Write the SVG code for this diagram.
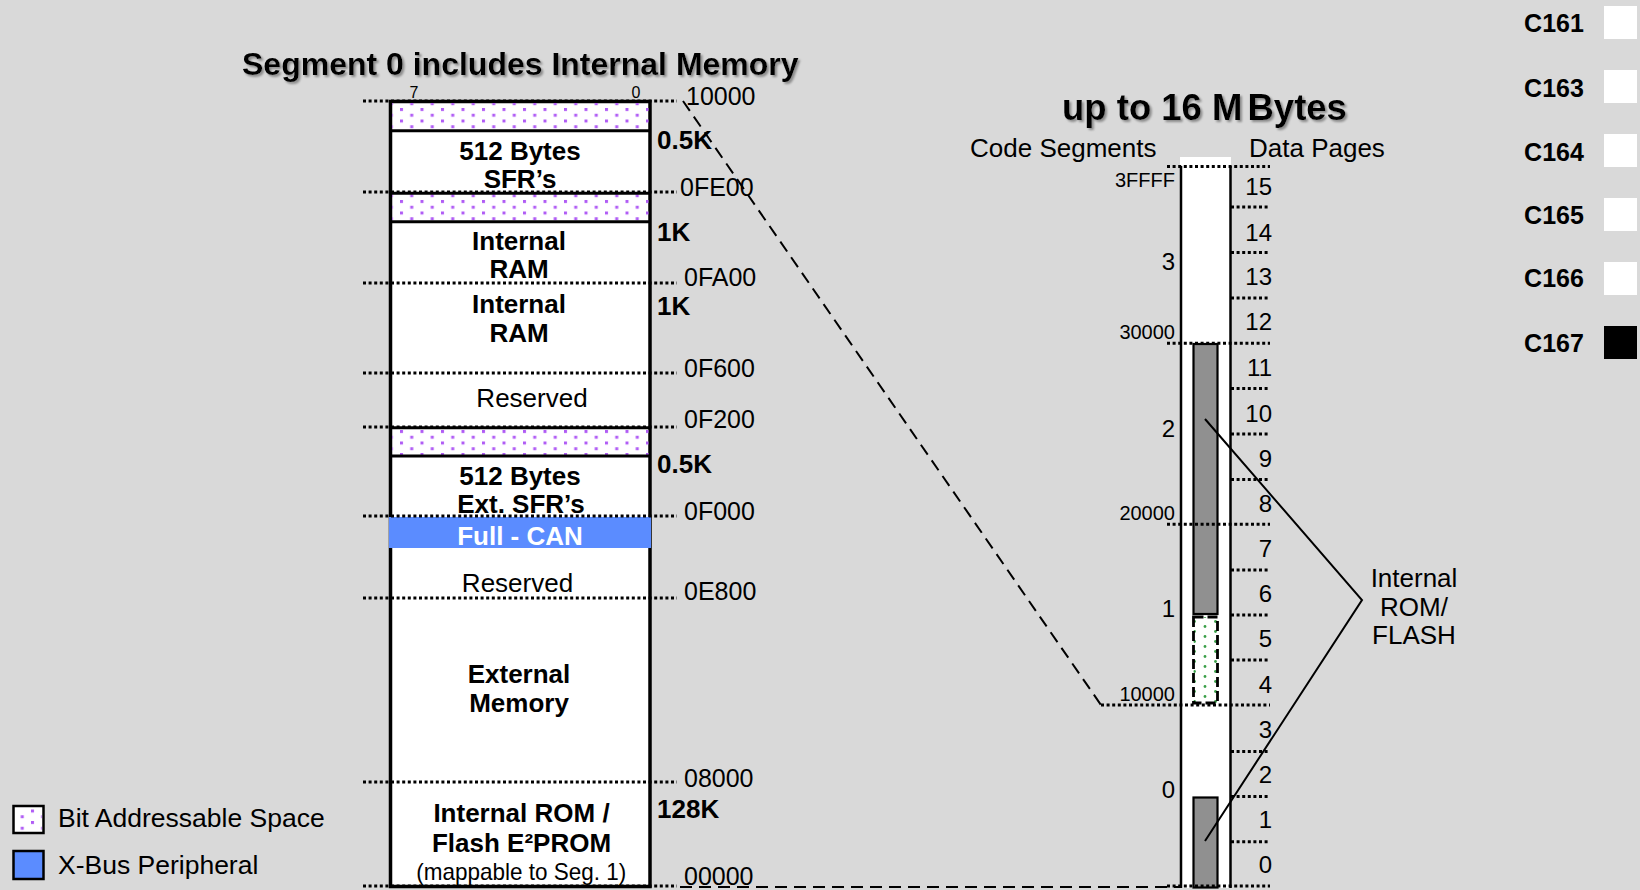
<svg xmlns="http://www.w3.org/2000/svg" width="1640" height="890" viewBox="0 0 1640 890">
<defs>
<style>
text{font-family:"Liberation Sans",Arial,sans-serif;fill:#000}
.b{font-weight:bold}
.t26{font-size:26px}
.t24{font-size:24px}
.t20{font-size:20px}
.k{font-size:26px;font-weight:bold}
.c{text-anchor:middle}
.r{text-anchor:end}
.dot{fill:none;stroke:#000;stroke-width:3;stroke-dasharray:3 2.6}
.dash{fill:none;stroke:#000;stroke-width:2;stroke-dasharray:12 7}
.box{stroke:#000;stroke-width:3.5}
.sep{stroke:#000;stroke-width:3}
</style>
<pattern id="bits" width="20.5" height="11.5" patternUnits="userSpaceOnUse" x="400" y="108">
<rect x="0" y="0" width="3" height="3" fill="#b05cf5"/>
<rect x="10.25" y="5.75" width="3" height="3" fill="#b05cf5"/>
</pattern>
<pattern id="green" width="21" height="10" patternUnits="userSpaceOnUse" x="1193" y="620">
<circle cx="1.5" cy="1.5" r="1.4" fill="#3ca04a"/>
<circle cx="12" cy="6.5" r="1.4" fill="#3ca04a"/>
</pattern>
<filter id="sh" x="-5%" y="-20%" width="110%" height="150%">
<feDropShadow dx="2" dy="2" stdDeviation="0.8" flood-color="#8a8a8a" flood-opacity="1"/>
</filter>
</defs>
<rect width="1640" height="890" fill="#d9d9d9"/>

<!-- titles -->
<text x="242" y="75" class="b" font-size="32" filter="url(#sh)">Segment 0 includes Internal Memory</text>
<text x="1062" y="120" class="b" font-size="36.5" filter="url(#sh)">up to 16 M<tspan dx="5">Bytes</tspan></text>

<!-- left memory map -->
<g id="segment0">
<rect x="390.5" y="101.5" width="259.5" height="785" fill="#fff" class="box"/>
<rect x="392" y="103" width="256.5" height="27" fill="url(#bits)"/>
<rect x="392" y="194" width="256.5" height="27" fill="url(#bits)"/>
<rect x="392" y="429" width="256.5" height="26" fill="url(#bits)"/>
<line x1="390.5" y1="130.7" x2="650" y2="130.7" class="sep"/>
<line x1="390.5" y1="193.2" x2="650" y2="193.2" class="sep"/>
<line x1="390.5" y1="221.7" x2="650" y2="221.7" class="sep"/>
<line x1="390.5" y1="427.8" x2="650" y2="427.8" class="sep"/>
<line x1="390.5" y1="456" x2="650" y2="456" class="sep"/>
<text x="414" y="98" font-size="16" class="c">7</text>
<text x="636" y="98" font-size="16" class="c">0</text>
</g>

<g id="sfr">
<text x="520" y="160" class="b t26 c">512 Bytes</text>
<text x="520" y="188" class="b t26 c">SFR’s</text>
<text x="657" y="149" class="k">0.5K</text>
</g>
<g id="ram1">
<text x="519" y="250" class="b t26 c">Internal</text>
<text x="519" y="278" class="b t26 c">RAM</text>
<text x="657" y="241" class="k">1K</text>
</g>
<g id="ram2">
<text x="519" y="313" class="b t26 c">Internal</text>
<text x="519" y="342" class="b t26 c">RAM</text>
<text x="657" y="315" class="k">1K</text>
</g>
<g id="reserved1">
<text x="532" y="407" class="t26 c">Reserved</text>
</g>
<g id="extsfr">
<text x="520" y="485" class="b t26 c">512 Bytes</text>
<text x="521" y="513" class="b t26 c">Ext. SFR’s</text>
<text x="657" y="473" class="k">0.5K</text>
</g>
<g id="can">
<rect x="389" y="517" width="262" height="31" fill="#5b8cff"/>
<text x="520" y="545" class="b t26 c" style="fill:#fff">Full - CAN</text>
</g>
<g id="reserved2">
<text x="517.5" y="592" class="t26 c">Reserved</text>
</g>
<g id="external">
<text x="519" y="683" class="b t26 c">External</text>
<text x="519" y="712" class="b t26 c">Memory</text>
</g>
<g id="rom">
<text x="521.5" y="822" class="b t26 c">Internal ROM /</text>
<text x="521.5" y="852" class="b t26 c">Flash E²PROM</text>
<text x="521.3" y="880" class="t24 c" textLength="210" lengthAdjust="spacingAndGlyphs">(mappable to Seg. 1)</text>
<text x="657" y="818" class="k">128K</text>
</g>

<g id="addresses" font-size="25">
<text x="686" y="105">10000</text>
<text x="680" y="196">0FE00</text>
<text x="684" y="286">0FA00</text>
<text x="684" y="377">0F600</text>
<text x="684" y="428">0F200</text>
<text x="684" y="520">0F000</text>
<text x="684" y="600">0E800</text>
<text x="684" y="787">08000</text>
<text x="684" y="885">00000</text>
</g>

<!-- legend -->
<g id="legend" font-size="26.5">
<rect x="13.5" y="806" width="30" height="27" fill="#fff" stroke="#000" stroke-width="2.5"/>
<rect x="15" y="807.5" width="27" height="24" fill="url(#bits)"/>
<text x="58" y="827">Bit Addressable Space</text>
<rect x="13.5" y="851" width="30" height="28" fill="#5b8cff" stroke="#000" stroke-width="2.5"/>
<text x="58" y="874">X-Bus Peripheral</text>
</g>

<!-- right column -->
<g id="column">
<rect x="1180" y="157" width="51" height="731" fill="#fff"/>
<line x1="1181" y1="166" x2="1181" y2="888" stroke="#000" stroke-width="2.5"/>
<line x1="1230.5" y1="166" x2="1230.5" y2="888" stroke="#000" stroke-width="2.5"/>
<text x="970" y="157" class="t26">Code Segments</text>
<text x="1249" y="157" class="t26">Data Pages</text>
</g>
<g id="rom-blocks">
<rect x="1193.5" y="344" width="24" height="270" fill="#909090" stroke="#000" stroke-width="2.2"/>
<rect x="1193.5" y="617" width="24" height="86" fill="url(#green)" stroke="#000" stroke-width="2.8" stroke-dasharray="10 4"/>
<rect x="1193.5" y="797.5" width="24" height="90" fill="#909090" stroke="#000" stroke-width="2.2"/>
</g>
<g id="code-segments" class="t24 r">
<text x="1175" y="187" class="t20">3FFFF</text>
<text x="1175" y="270">3</text>
<text x="1175" y="339" class="t20">30000</text>
<text x="1175" y="437">2</text>
<text x="1175" y="520" class="t20">20000</text>
<text x="1175" y="617">1</text>
<text x="1175" y="701" class="t20">10000</text>
<text x="1175" y="798">0</text>
</g>
<g id="data-pages" class="t24 r">
<text x="1272" y="195">15</text>
<text x="1272" y="241">14</text>
<text x="1272" y="285">13</text>
<text x="1272" y="330">12</text>
<text x="1272" y="376">11</text>
<text x="1272" y="422">10</text>
<text x="1272" y="467">9</text>
<text x="1272" y="512">8</text>
<text x="1272" y="557">7</text>
<text x="1272" y="602">6</text>
<text x="1272" y="647">5</text>
<text x="1272" y="693">4</text>
<text x="1272" y="738">3</text>
<text x="1272" y="783">2</text>
<text x="1272" y="828">1</text>
<text x="1272" y="873">0</text>
</g>
<g id="rom-label" class="t26 c">
<text x="1414" y="587">Internal</text>
<text x="1414" y="616">ROM/</text>
<text x="1414" y="644">FLASH</text>
</g>

<!-- device legend -->
<g id="devices" class="b c" font-size="25">
<text x="1554" y="32">C161</text>
<text x="1554" y="97">C163</text>
<text x="1554" y="161">C164</text>
<text x="1554" y="224">C165</text>
<text x="1554" y="287">C166</text>
<text x="1554" y="352">C167</text>
<rect x="1604" y="6" width="33" height="33" fill="#fff"/>
<rect x="1604" y="70" width="33" height="33" fill="#fff"/>
<rect x="1604" y="134" width="33" height="33" fill="#fff"/>
<rect x="1604" y="198" width="33" height="33" fill="#fff"/>
<rect x="1604" y="262" width="33" height="33" fill="#fff"/>
<rect x="1604" y="326" width="33" height="33" fill="#000"/>
</g>

<!-- connectors -->
<g id="connectors">
<path class="dot" d="M363 101H677M363 192H677M363 283H677M363 373H677M363 427H677M363 516H677M363 598H677M363 782H677M363 886H677"/>
<path class="dot" d="M1167 166.5H1270M1167 343.3H1270M1167 524.3H1270M1101 705H1270M1167 886H1270"/>
<path class="dot" d="M1231 207H1270M1231 252.5H1270M1231 298H1270M1231 388.5H1270M1231 434H1270M1231 479.5H1270M1231 570H1270M1231 615H1270M1231 660H1270M1231 751.5H1270M1231 796.5H1270M1231 841.7H1270"/>
<path class="dash" d="M683 101L1101 705"/>
<path class="dash" d="M680 887H1180" stroke-dasharray="11 7"/>
<polyline points="1205,419 1362,600 1205,841" fill="none" stroke="#000" stroke-width="2"/>
</g>
</svg>
